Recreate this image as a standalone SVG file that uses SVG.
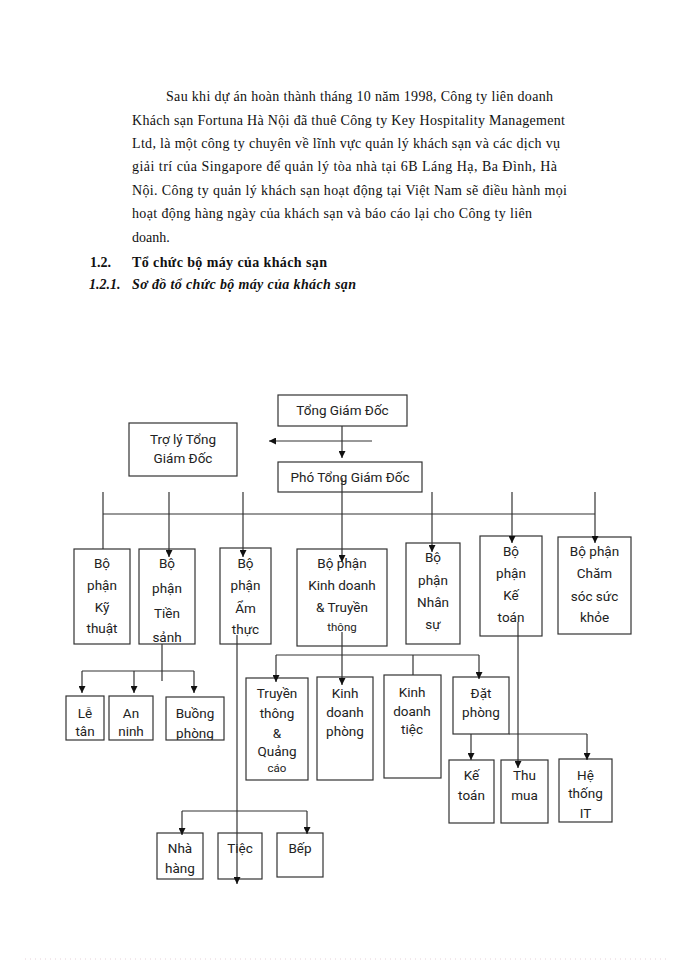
<svg xmlns="http://www.w3.org/2000/svg" width="700" height="960" viewBox="0 0 700 960">
<style>
.p{font-family:"Liberation Serif","Times New Roman",serif;font-size:14px;fill:#111}
.h{font-family:"Liberation Serif","Times New Roman",serif;font-size:14px;font-weight:bold;fill:#111}
.hi{font-family:"Liberation Serif","Times New Roman",serif;font-size:14px;font-weight:bold;font-style:italic;fill:#111}
.b{fill:#fff;stroke:#333;stroke-width:1.2}
.t{font-family:Roboto,"Noto Sans","Liberation Sans",sans-serif;font-size:13.5px;fill:#222;text-anchor:middle}
.s{font-family:Roboto,"Noto Sans","Liberation Sans",sans-serif;font-size:11.5px;fill:#222;text-anchor:middle}
.c{stroke:#333;stroke-width:1.2;fill:none}
.ca{stroke:#333;stroke-width:1.2;fill:none;marker-end:url(#ah)}
</style>
<defs>
<marker id="ah" viewBox="0 0 10 10" refX="10" refY="5" markerWidth="7" markerHeight="7" markerUnits="userSpaceOnUse" orient="auto">
<path d="M0,0 L10,5 L0,10 z" fill="#111"/>
</marker>
<clipPath id="clipTS"><rect x="139" y="549" width="56" height="95"/></clipPath>
<clipPath id="clipBP"><rect x="166" y="697" width="58" height="43"/></clipPath>
</defs>

<g id="text-block">
<text class="p" x="166" y="101" textLength="387" lengthAdjust="spacing">Sau khi dự án hoàn thành tháng 10 năm 1998, Công ty liên doanh</text>
<text class="p" x="132" y="125" textLength="433" lengthAdjust="spacing">Khách sạn Fortuna Hà Nội đã thuê Công ty Key Hospitality Management</text>
<text class="p" x="132" y="148" textLength="428" lengthAdjust="spacing">Ltd, là một công ty chuyên về lĩnh vực quản lý khách sạn và các dịch vụ</text>
<text class="p" x="132" y="171" textLength="425" lengthAdjust="spacing">giải trí của Singapore để quản  lý tòa nhà tại 6B Láng Hạ, Ba Đình, Hà</text>
<text class="p" x="132" y="195" textLength="435" lengthAdjust="spacing">Nội. Công ty quản lý khách sạn hoạt động tại Việt Nam sẽ điều hành mọi</text>
<text class="p" x="132" y="218" textLength="400" lengthAdjust="spacing">hoạt động hàng ngày của khách sạn và báo cáo lại cho Công ty liên</text>
<text class="p" x="132" y="242">doanh.</text>
<text class="h" x="90" y="267">1.2.</text>
<text class="h" x="132" y="267" textLength="195" lengthAdjust="spacing">Tổ chức bộ máy của khách sạn</text>
<text class="hi" x="89" y="289">1.2.1.</text>
<text class="hi" x="132" y="289" textLength="224" lengthAdjust="spacing">Sơ đồ tổ chức bộ máy của khách sạn</text>
</g>

<g id="n-tgd"><rect class="b" x="278" y="395" width="129" height="31"/><text class="t" x="342.5" y="415">Tổng Giám Đốc</text></g>
<g id="n-troly"><rect class="b" x="129" y="423" width="108" height="53"/><text class="t" x="183" y="444">Trợ lý Tổng</text><text class="t" x="183" y="463">Giám Đốc</text></g>
<g id="n-pho"><rect class="b" x="278" y="462" width="144" height="30"/><text class="t" x="350" y="482">Phó Tổng Giám Đốc</text></g>

<g id="n-kythuat"><rect class="b" x="74" y="549" width="56" height="95"/><text class="t" x="102" y="568">Bộ</text><text class="t" x="102" y="590">phận</text><text class="t" x="102" y="612">Kỹ</text><text class="t" x="102" y="633">thuật</text></g>
<g id="n-tiensanh"><rect class="b" x="139" y="549" width="56" height="95"/><g clip-path="url(#clipTS)"><text class="t" x="167" y="568">Bộ</text><text class="t" x="167" y="593">phận</text><text class="t" x="167" y="618">Tiền</text><text class="t" x="167" y="642">sảnh</text></g></g>
<g id="n-amthuc"><rect class="b" x="220" y="548" width="51" height="96"/><text class="t" x="245.5" y="568">Bộ</text><text class="t" x="245.5" y="590">phận</text><text class="t" x="245.5" y="613">Ẩm</text><text class="t" x="245.5" y="634">thực</text></g>
<g id="n-kinhdoanh"><rect class="b" x="297" y="549" width="90" height="97"/><text class="t" x="342" y="568">Bộ phận</text><text class="t" x="342" y="590">Kinh doanh</text><text class="t" x="342" y="612">&amp; Truyền</text><text class="s" x="342" y="631">thông</text></g>
<g id="n-nhansu"><rect class="b" x="406" y="543" width="54" height="101"/><text class="t" x="433" y="562">Bộ</text><text class="t" x="433" y="585">phận</text><text class="t" x="433" y="607">Nhân</text><text class="t" x="433" y="629">sự</text></g>
<g id="n-ketoan"><rect class="b" x="480" y="536" width="62" height="100"/><text class="t" x="511" y="556">Bộ</text><text class="t" x="511" y="578">phận</text><text class="t" x="511" y="600">Kế</text><text class="t" x="511" y="622">toán</text></g>
<g id="n-chamsoc"><rect class="b" x="558" y="537" width="73" height="97"/><text class="t" x="594.5" y="556">Bộ phận</text><text class="t" x="594.5" y="578">Chăm</text><text class="t" x="594.5" y="601">sóc sức</text><text class="t" x="594.5" y="622">khỏe</text></g>

<g id="n-letan"><rect class="b" x="66" y="696" width="38" height="44"/><text class="t" x="85" y="718">Lễ</text><text class="t" x="85" y="736">tân</text></g>
<g id="n-anninh"><rect class="b" x="109" y="696" width="44" height="44"/><text class="t" x="131" y="718">An</text><text class="t" x="131" y="736">ninh</text></g>
<g id="n-buongphong"><rect class="b" x="166" y="697" width="58" height="43"/><g clip-path="url(#clipBP)"><text class="t" x="195" y="718">Buồng</text><text class="t" x="195" y="738">phòng</text></g></g>

<g id="n-truyenthong"><rect class="b" x="246" y="678" width="62" height="102"/><text class="t" x="277" y="698">Truyền</text><text class="t" x="277" y="718">thông</text><text class="t" x="277" y="738">&amp;</text><text class="t" x="277" y="756">Quảng</text><text class="s" x="277" y="772">cáo</text></g>
<g id="n-kdphong"><rect class="b" x="317" y="677" width="56" height="103"/><text class="t" x="345" y="698">Kinh</text><text class="t" x="345" y="717">doanh</text><text class="t" x="345" y="736">phòng</text></g>
<g id="n-kdtiec"><rect class="b" x="384" y="675" width="57" height="103"/><text class="t" x="412" y="697">Kinh</text><text class="t" x="412" y="716">doanh</text><text class="t" x="412" y="734">tiệc</text></g>
<g id="n-datphong"><rect class="b" x="453" y="677" width="56" height="57"/><text class="t" x="481" y="698">Đặt</text><text class="t" x="481" y="717">phòng</text></g>

<g id="n-ketoan2"><rect class="b" x="449" y="760" width="45" height="63"/><text class="t" x="471.5" y="780">Kế</text><text class="t" x="471.5" y="800">toán</text></g>
<g id="n-thumua"><rect class="b" x="501" y="760" width="47" height="63"/><text class="t" x="524.5" y="780">Thu</text><text class="t" x="524.5" y="800">mua</text></g>
<g id="n-hethong"><rect class="b" x="559" y="759" width="53" height="63"/><text class="t" x="585.5" y="780">Hệ</text><text class="t" x="585.5" y="798">thống</text><text class="t" x="585.5" y="818">IT</text></g>

<g id="n-nhahang"><rect class="b" x="157" y="833" width="46" height="46"/><text class="t" x="180" y="853">Nhà</text><text class="t" x="180" y="873">hàng</text></g>
<g id="n-tiec"><rect class="b" x="218" y="833" width="44" height="46"/><text class="t" x="240" y="853">Tiệc</text></g>
<g id="n-bep"><rect class="b" x="277" y="833" width="46" height="44"/><text class="t" x="300" y="853">Bếp</text></g>

<g id="connectors">
<line class="ca" x1="342" y1="426" x2="342" y2="458"/>
<line class="ca" x1="372" y1="441" x2="269" y2="441"/>
<line class="c" x1="103" y1="514" x2="595" y2="514"/>
<line class="c" x1="103" y1="492" x2="103" y2="549"/>
<line class="ca" x1="169" y1="492" x2="169" y2="557"/>
<line class="ca" x1="243" y1="492" x2="243" y2="557"/>
<line class="ca" x1="342" y1="478" x2="342" y2="562"/>
<line class="ca" x1="432" y1="492" x2="432" y2="552"/>
<line class="ca" x1="512" y1="492" x2="512" y2="543"/>
<line class="ca" x1="595" y1="492" x2="595" y2="543"/>
<line class="c" x1="162" y1="644" x2="162" y2="681"/>
<line class="c" x1="82" y1="671" x2="194" y2="671"/>
<line class="ca" x1="82" y1="671" x2="82" y2="693"/>
<line class="ca" x1="134" y1="671" x2="134" y2="693"/>
<line class="ca" x1="194" y1="671" x2="194" y2="693"/>
<line class="ca" x1="237" y1="635" x2="237" y2="884"/>
<line class="c" x1="182" y1="811" x2="307" y2="811"/>
<line class="ca" x1="182" y1="811" x2="182" y2="835"/>
<line class="ca" x1="307" y1="811" x2="307" y2="834"/>
<line class="c" x1="276" y1="655" x2="479" y2="655"/>
<line class="ca" x1="276" y1="655" x2="276" y2="682"/>
<line class="ca" x1="479" y1="655" x2="479" y2="679"/>
<line class="c" x1="413" y1="655" x2="413" y2="675"/>
<line class="ca" x1="342" y1="632" x2="342" y2="685"/>
<line class="ca" x1="518" y1="622" x2="518" y2="768"/>
<line class="c" x1="509" y1="734" x2="587" y2="734"/>
<line class="ca" x1="587" y1="734" x2="587" y2="760"/>
<line class="ca" x1="471" y1="734" x2="471" y2="760"/>
</g>

<line x1="25" y1="959" x2="670" y2="959" stroke="#e6cfd8" stroke-width="1" stroke-dasharray="1 4"/>
</svg>
